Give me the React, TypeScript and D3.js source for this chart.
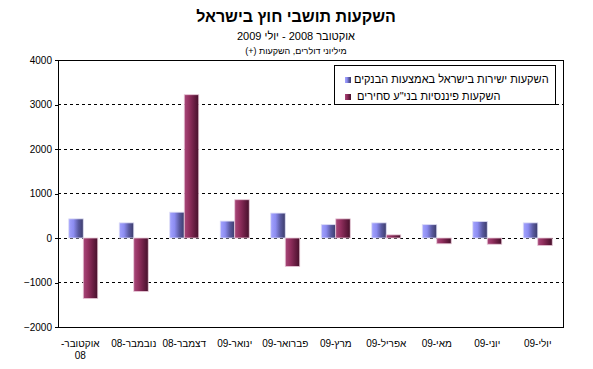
import React, { useEffect, useRef } from 'react';
import * as d3 from 'd3';

// months, oct 2008 - jul 2009
const categories = [
  'אוקטובר-08', 'נובמבר-08', 'דצמבר-08', 'ינואר-09', 'פברואר-09',
  'מרץ-09', 'אפריל-09', 'מאי-09', 'יוני-09', 'יולי-09'
];

const seriesNames = [
  'השקעות ישירות בישראל באמצעות הבנקים',
  ' השקעות פיננסיות בני"ע סחירים'
];

// direct investments through banks
const directValues = [430, 340, 580, 380, 560, 300, 340, 300, 370, 340];
// financial investments in tradable securities
const financialValues = [-1360, -1200, 3220, 860, -640, 430, 70, -130, -140, -170];

const yTicks = [-2000, -1000, 0, 1000, 2000, 3000, 4000];

const titleText = 'השקעות תושבי חוץ בישראל';
const subtitleText = 'אוקטובר 2008 - יולי 2009';
const unitText = 'מיליוני דולרים, השקעות (+)';

const FONT = '"Liberation Sans", Arial, sans-serif';
const RLM = '\u200F';

export default function App() {
  const ref = useRef<SVGSVGElement>(null);

  useEffect(() => {
    const svg = d3.select(ref.current);
    svg.selectAll('*').remove();

    const left = 58, right = 563, top = 60, bottom = 327;

    const x = d3.scaleBand().domain(categories).range([left, right]).padding(0);
    const inner = d3.scaleBand()
      .domain(['a', 'b'])
      .range([x.bandwidth() / 2 - 14.5, x.bandwidth() / 2 + 14.5]);
    const y = d3.scaleLinear().domain([-2000, 4000]).range([bottom, top]);

    //  gradients for the bars
    const defs = svg.append('defs');
    const grads = [
      { id: 'gBlue', stops: ['#a4a4ff', '#8c8cf0', '#5a5aa0', '#3c3c6a'] },
      { id: 'gRed', stops: ['#a8487a', '#93305f', '#6c1e44', '#45102a'] }
    ];
    grads.forEach(g => {
      const lg = defs.append('linearGradient').attr('id', g.id)
        .attr('x1', 0).attr('x2', 1).attr('y1', 0).attr('y2', 0);
      g.stops.forEach((c, i) => {
        lg.append('stop').attr('offset', (i / (g.stops.length - 1)) * 100 + '%').attr('stop-color', c);
      });
    });

    //  Titles
    svg.append('text')
      .attr('x', 296).attr('y', 22)
      .attr('text-anchor', 'middle').attr('direction', 'rtl')
      .style('font-family', FONT).style('font-size', '16px').style('font-weight', 'bold')
      .text(titleText);
    svg.append('text')
      .attr('x', 296).attr('y', 40)
      .attr('text-anchor', 'middle').attr('direction', 'rtl')
      .style('font-family', FONT).style('font-size', '11px')
      .text(subtitleText + RLM);
    svg.append('text')
      .attr('x', 296).attr('y', 54)
      .attr('text-anchor', 'middle').attr('direction', 'rtl')
      .style('font-family', FONT).style('font-size', '9px')
      .text(unitText + RLM);

    //  grid lines
    svg.append('g').selectAll('line')
      .data(yTicks.filter(t => t > -2000 && t < 4000)).enter()
      .append('line')
      .attr('x1', left).attr('x2', right)
      .attr('y1', d => y(d)).attr('y2', d => y(d))
      .attr('stroke', '#000').attr('stroke-width', 1)
      .attr('stroke-dasharray', '3,3')
      .attr('shape-rendering', 'crispEdges');

    //  bars
    const rows = [
      { key: 'a', values: directValues, fill: 'url(#gBlue)', halo: '#dcdcf4' },
      { key: 'b', values: financialValues, fill: 'url(#gRed)', halo: '#e8c8d8' }
    ];
    rows.forEach(r => {
      svg.append('g').selectAll('rect')
        .data(r.values).enter()
        .append('rect')
        .attr('x', (d, i) => (x(categories[i]) as number) + (inner(r.key) as number))
        .attr('width', inner.bandwidth())
        .attr('y', d => y(Math.max(0, d)))
        .attr('height', d => Math.abs(y(d) - y(0)))
        .attr('fill', r.fill)
        .attr('stroke', r.halo).attr('stroke-width', 0.8);
    });

    //  frame
    svg.append('rect')
      .attr('x', left).attr('y', top)
      .attr('width', right - left).attr('height', bottom - top)
      .attr('fill', 'none').attr('stroke', '#000').attr('stroke-width', 1)
      .attr('shape-rendering', 'crispEdges');

    //  y axis
    const yAxis = svg.append('g')
      .attr('transform', 'translate(' + left + ',0)')
      .call(d3.axisLeft(y).tickValues(yTicks).tickSize(3).tickPadding(3).tickFormat(d3.format('d')));
    yAxis.select('.domain').remove();
    yAxis.selectAll('line').attr('shape-rendering', 'crispEdges');
    yAxis.selectAll('text').style('font-family', FONT).style('font-size', '10px');

    //  x labels (first one wraps in two lines)
    const xl = svg.append('g');
    categories.forEach((c, i) => {
      const cx = (x(c) as number) + x.bandwidth() / 2;
      if (i === 0) {
        const parts = c.split('-');
        xl.append('text')
          .attr('x', cx - 3).attr('y', 347)
          .attr('text-anchor', 'middle').attr('direction', 'rtl')
          .style('font-family', FONT).style('font-size', '10px')
          .text(parts[0] + '-' + RLM);
        xl.append('text')
          .attr('x', cx - 3).attr('y', 359)
          .attr('text-anchor', 'middle')
          .style('font-family', FONT).style('font-size', '10px')
          .text(parts[1]);
      } else {
        xl.append('text')
          .attr('x', cx).attr('y', 347)
          .attr('text-anchor', 'middle').attr('direction', 'rtl')
          .style('font-family', FONT).style('font-size', '10px')
          .text(c);
      }
    });

    //  legend
    const lg = svg.append('g');
    lg.append('rect')
      .attr('x', 334).attr('y', 65).attr('width', 221).attr('height', 39)
      .attr('fill', '#fff').attr('stroke', '#000').attr('stroke-width', 1)
      .attr('shape-rendering', 'crispEdges');
    seriesNames.forEach((name, i) => {
      lg.append('rect')
        .attr('x', 345).attr('y', 77 + i * 17).attr('width', 6).attr('height', 6)
        .attr('fill', rows[i].fill);
      lg.append('text')
        .attr('x', 354).attr('y', 83 + i * 17)
        .attr('text-anchor', 'start')
        .style('font-family', FONT).style('font-size', '11px')
        .style('white-space', 'pre')
        .text(name);
    });
  }, []);

  return (
    <svg ref={ref} width={593} height={369}
      style={{ position: 'absolute', left: 0, top: 0, background: '#fff' }} />
  );
}
